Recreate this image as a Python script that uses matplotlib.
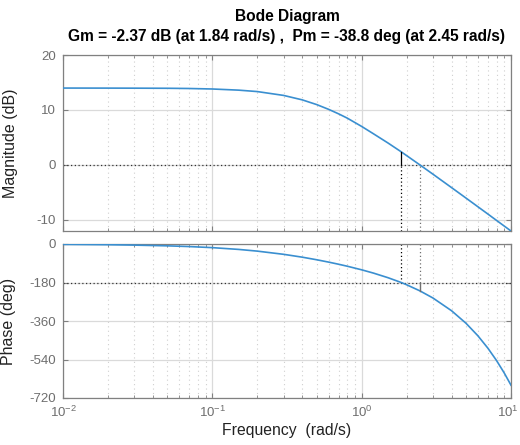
import matplotlib
matplotlib.use("Agg")
import matplotlib.pyplot as plt
import numpy as np
from matplotlib.ticker import LogLocator, NullFormatter, FixedLocator, FuncFormatter

plt.rcParams['font.family'] = ['Liberation Sans', 'DejaVu Sans']
plt.rcParams['axes.unicode_minus'] = False
plt.rcParams['mathtext.fontset'] = 'custom'
plt.rcParams['mathtext.rm'] = 'Liberation Sans'
plt.rcParams['mathtext.it'] = 'Liberation Sans'

freq = [0.01, 0.02, 0.03, 0.05, 0.07, 0.1, 0.15, 0.2, 0.3, 0.4, 0.5, 0.6, 0.7,
        0.8, 1.0, 1.2, 1.5, 1.84, 2.0, 2.45, 3.0, 4.0, 5.0, 6.0, 7.0, 8.0, 9.0, 10.0]
mag_db = [13.98, 13.97, 13.96, 13.94, 13.90, 13.81, 13.60, 13.34, 12.64, 11.83,
          10.97, 10.11, 9.29, 8.51, 6.99, 5.65, 3.98, 2.37, 1.68, 0.0, -1.70,
          -4.15, -6.06, -7.63, -8.96, -10.12, -11.14, -12.05]
phase_deg = [-1.7, -3.4, -5.2, -8.6, -12.0, -17.0, -25.3, -33.3, -48.2, -61.6,
             -73.7, -84.6, -94.6, -103.8, -120.7, -136.1, -157.5, -180.0, -190.6,
             -218.8, -252.4, -312.1, -370.8, -429.0, -487.0, -544.8, -602.5, -660.1]

gm_db = -2.37
gm_freq = 1.84
pm_deg = -38.8
pm_freq = 2.45

mag_ticks = [-10, 0, 10, 20]
phase_ticks = [-720, -540, -360, -180, 0]
freq_ticks = [0.01, 0.1, 1, 10]
freq_ticklabels = [r'$\mathdefault{10^{-2}}$', r'$\mathdefault{10^{-1}}$',
                   r'$\mathdefault{10^{0}}$', r'$\mathdefault{10^{1}}$']

title_lines = ["Bode Diagram",
               "Gm = -2.37 dB (at 1.84 rad/s) ,  Pm = -38.8 deg (at 2.45 rad/s)"]

line_col = '#3A8FD0'
gray = '#808080'
tick_col = '#6E6E6E'

fig = plt.figure(figsize=(5.2, 4.45), dpi=100)
L, R = 63 / 520, 511 / 520
ax1 = fig.add_axes([L, 1 - 231 / 445, R - L, (231 - 55) / 445])
ax2 = fig.add_axes([L, 1 - 398 / 445, R - L, (398 - 244) / 445])

for ax in (ax1, ax2):
    ax.set_xscale('log')
    ax.set_xlim(0.01, 10)
    ax.xaxis.set_major_locator(FixedLocator(freq_ticks))
    ax.xaxis.set_minor_locator(LogLocator(base=10, subs=np.arange(2, 10), numticks=100))
    ax.xaxis.set_minor_formatter(NullFormatter())
    ax.grid(True, which='major', color='#DADADA', linewidth=0.9, linestyle='-')
    ax.grid(True, which='minor', color='#CFCFCF', linewidth=0.8, linestyle=(0, (1, 3)))
    for s in ax.spines.values():
        s.set_color(gray)
        s.set_linewidth(0.9)
    ax.tick_params(which='both', direction='in', colors=gray, labelcolor=tick_col,
                   labelsize=9.5, top=True, right=True, pad=5)
    ax.tick_params(which='major', length=3.5)
    ax.tick_params(which='minor', length=2)
    ax.set_axisbelow(True)

# magnitude
ax1.plot(freq, mag_db, color=line_col, lw=1.2, zorder=3)
ax1.set_ylim(-12.05, 20)
ax1.yaxis.set_major_locator(FixedLocator(mag_ticks))
ax1.axhline(0, color='#333333', lw=0.9, ls=(0, (1, 2)), zorder=2)
gm_idx = freq.index(gm_freq)
ax1.plot([gm_freq, gm_freq], [0, mag_db[gm_idx]], color='black', lw=0.9, zorder=4)
ax1.plot([gm_freq, gm_freq], [-12.05, 0], color='black', lw=0.9, ls=(0, (1, 2)), zorder=2)
ax1.plot([pm_freq, pm_freq], [-12.05, 0], color='#707070', lw=0.9, ls=(0, (1, 2)), zorder=2)
ax1.tick_params(labelbottom=False)
ax1.set_ylabel('Magnitude (dB)', fontsize=11.5, color='#222222')

# phase
ax2.plot(freq, phase_deg, color=line_col, lw=1.2, zorder=3)
ax2.set_ylim(-720, 0)
ax2.yaxis.set_major_locator(FixedLocator(phase_ticks))
ax2.axhline(-180, color='#333333', lw=0.9, ls=(0, (1, 2)), zorder=2)
ax2.plot([gm_freq, gm_freq], [0, -180], color='black', lw=0.9, ls=(0, (1, 2)), zorder=2)
ax2.plot([pm_freq, pm_freq], [0, -180], color='#707070', lw=0.9, ls=(0, (1, 2)), zorder=2)
ax2.plot([pm_freq, pm_freq], [-180, -180 + pm_deg], color='#707070', lw=1.0, zorder=4)
ax2.set_ylabel('Phase (deg)', fontsize=11.5, color='#222222')
ax2.set_xlabel('Frequency  (rad/s)', fontsize=11.3, color='#222222', labelpad=2)

# x tick labels: all but the last through the axis; the last one kept inside the figure
ax2.xaxis.set_major_formatter(FuncFormatter(
    lambda v, p: freq_ticklabels[p] if p is not None and p < len(freq_ticklabels) - 1 else ''))
fig.text(519 / 520, 1 - 405 / 445, freq_ticklabels[-1], ha='right', va='top',
         fontsize=9.5, color=tick_col)

w1 = ax1.get_position().width
ax1.yaxis.set_label_coords((18 - 63) / 520 / w1, 0.5)
ax2.yaxis.set_label_coords((16 - 63) / 520 / w1, 0.5)

fig.text(0.5 * (L + R), 1 - 16 / 445, title_lines[0], ha='center', va='center',
         fontsize=11.2, fontweight='bold')
fig.text(0.5 * (L + R), 1 - 37 / 445, title_lines[1], ha='center', va='center',
         fontsize=11.2, fontweight='bold')

fig.savefig('out.png', dpi=100)
